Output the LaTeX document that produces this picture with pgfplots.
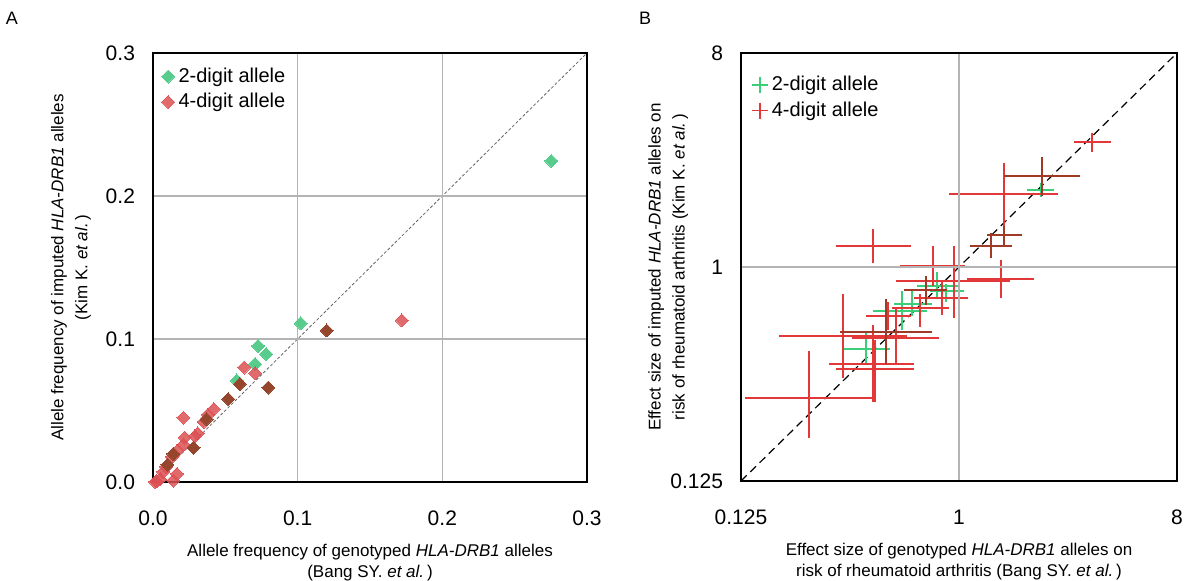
\documentclass[border=0pt]{standalone}
\usepackage{fontspec}
\setmainfont{Liberation Sans}
\usepackage{pgfplots}
\usepackage{pgfplotstable}
\pgfplotsset{compat=1.18}

\definecolor{grn}{RGB}{88,204,140}
\definecolor{rd}{RGB}{220,80,84}
\definecolor{brn}{RGB}{150,70,45}
\definecolor{gridg}{RGB}{180,180,180}
\definecolor{lred}{RGB}{226,56,56}
\definecolor{lgrn}{RGB}{60,205,120}
\definecolor{lbrn}{RGB}{160,58,38}

% panel A: allele frequencies (genotyped, imputed)
\pgfplotstableread{
x y
0.2754 0.2245
0.102 0.111
0.0727 0.0951
0.0782 0.0895
0.0706 0.0825
0.058 0.071
}\freqtwo
\pgfplotstableread{
x y
0.172 0.113
0.063 0.080
0.0706 0.076
0.042 0.051
0.038 0.047
0.021 0.045
0.035 0.042
0.031 0.034
0.029 0.032
0.022 0.031
0.021 0.026
0.017 0.022
0.013 0.0175
0.009 0.0105
0.007 0.007
0.0166 0.0056
0.014 0.001
0.005 0.002
0.0014 0.000
0.0025 0.0005
}\freqfour
% alleles where the 2-digit and 4-digit values coincide
\pgfplotstableread{
x y
0.120 0.106
0.060 0.0685
0.0796 0.066
0.052 0.058
0.037 0.044
0.028 0.024
0.014 0.0196
0.010 0.012
}\freqboth

% panel B: effect sizes with confidence intervals
\pgfplotstableread{
x xl xh y yl yh
2.18 1.92 2.47 2.11 1.97 2.26
0.81 0.67 1.00 0.83 0.74 0.95
0.88 0.76 1.05 0.79 0.71 0.85
0.64 0.54 0.77 0.70 0.62 0.79
0.58 0.44 0.74 0.65 0.54 0.79
0.41 0.33 0.52 0.45 0.39 0.53
}\ortwo
\pgfplotstableread{
x xl xh y yl yh
3.57 2.99 4.25 3.36 3.05 3.69
1.53 0.91 2.57 2.03 1.49 2.76
0.44 0.31 0.63 1.23 1.04 1.44
1.49 1.08 2.04 0.89 0.74 1.07
0.95 0.55 1.62 0.87 0.61 1.23
0.78 0.57 1.06 1.01 0.83 1.23
0.85 0.65 1.09 0.74 0.63 0.88
0.69 0.53 0.91 0.67 0.56 0.77
0.51 0.41 0.63 0.62 0.54 0.71
0.55 0.36 0.83 0.50 0.39 0.68
0.33 0.18 0.61 0.51 0.34 0.77
0.44 0.29 0.65 0.39 0.27 0.57
0.45 0.31 0.65 0.37 0.27 0.49
0.24 0.13 0.44 0.28 0.19 0.44
}\orfour
\pgfplotstableread{
x xl xh y yl yh
2.20 1.53 3.16 2.42 1.99 2.92
1.54 1.31 1.83 1.36 1.23 1.49
1.36 1.11 1.66 1.23 1.09 1.39
0.73 0.59 0.89 0.80 0.69 0.92
0.50 0.32 0.77 0.53 0.39 0.73
}\orboth

\pgfplotsset{
  panel/.style={
    scale only axis,
    axis line style={line width=1pt},
    grid=major,
    major grid style={gridg, line width=0.75pt},
    tick style={draw=none},
    /pgf/number format/assume math mode=true,
    ticklabel style={font=\fontsize{10.5}{12}\selectfont},
    yticklabel style={xshift=-5.5pt},
    xticklabel style={yshift=-11pt},
    every axis x label/.style={at={(axis description cs:0.5,0)}, anchor=north, yshift=-27.5pt,
      align=center, font=\fontsize{8.5}{10.5}\selectfont},
    legend cell align=left,
    legend style={draw=none, fill=none, font=\fontsize{10}{12}\selectfont,
      anchor=north west, row sep=0pt},
    clip=false,
    axis on top,
  },
  ylab/.style={every axis y label/.style={at={(axis description cs:#1,0.5)}, rotate=90,
      anchor=south, align=center, font=\fontsize{8.5}{12}\selectfont}},
  dmd/.style={only marks, mark=square*, mark size=2.3pt, color=#1,
    mark options={rotate=45, line width=0pt}},
  ci/.style={draw=none, mark=none, forget plot,
    error bars/.cd, x dir=both, x explicit, y dir=both, y explicit, error mark=none,
    error bar style={draw=#1, line width=1pt}},
  pls/.style={only marks, mark=+, mark size=4pt, color=#1, mark options={draw=#1, line width=0.8pt}},
}

\begin{document}
\begin{tikzpicture}[x=1pt, y=1pt]
\path[use as bounding box] (0,0) rectangle (592,290.5);
\node[font=\fontsize{9}{10}\selectfont] at (6,281.5) {A};
\node[font=\fontsize{9}{10}\selectfont] at (322.5,281.5) {B};

\begin{axis}[panel, ylab=-0.127,
  at={(76.5pt,49.5pt)}, anchor=south west,
  width=217pt, height=214.5pt,
  xmin=0, xmax=0.3, ymin=0, ymax=0.3,
  xtick={0,0.1,0.2,0.3}, xticklabels={0.0,0.1,0.2,0.3},
  ytick={0,0.1,0.2,0.3}, yticklabels={0.0,0.1,0.2,0.3},
  xlabel={Allele frequency of genotyped \textit{HLA-DRB1} alleles\\(Bang SY. \textit{et al.}\,)},
  ylabel={Allele frequency of imputed \textit{HLA-DRB1} alleles\\(Kim K. \textit{et al.}\,)},
  legend style={at={(axis description cs:0.005,0.985)}},
]
\addplot[gray!80!black, line width=0.4pt, dash pattern=on 1.5pt off 1pt, forget plot]
  coordinates {(0,0) (0.3,0.3)};
\addplot[dmd=grn] table {\freqtwo};
\addlegendentry{2-digit allele}
\addplot[only marks, mark=square*, mark size=2.3pt, color=rd,
  mark options={rotate=45, line width=0pt, opacity=0.85}] table {\freqfour};
\addlegendentry{4-digit allele}
\addplot[dmd=brn, forget plot] table {\freqboth};
\end{axis}

\begin{axis}[panel, ylab=-0.105,
  at={(370.5pt,50pt)}, anchor=south west,
  width=218pt, height=214pt,
  xmode=log, ymode=log, log basis x=2, log basis y=2,
  xmin=0.125, xmax=8, ymin=0.125, ymax=8,
  xtick={0.125,1,8}, xticklabels={0.125,1,8},
  ytick={0.125,1,8}, yticklabels={0.125,1,8},
  major grid style={gridg, line width=0.6pt},
  xlabel={Effect size of genotyped \textit{HLA-DRB1} alleles on\\risk of rheumatoid arthritis (Bang SY. \textit{et al.}\,)},
  ylabel={Effect size of imputed \textit{HLA-DRB1} alleles on\\risk of rheumatoid arthritis (Kim K. \textit{et al.}\,)},
  legend style={at={(axis description cs:0.01,0.965)}},
]
\addplot[black, line width=0.6pt, dash pattern=on 4pt off 2.5pt, forget plot]
  coordinates {(0.125,0.125) (8,8)};
\addlegendimage{pls=lgrn}
\addlegendentry{2-digit allele}
\addlegendimage{pls=lred}
\addlegendentry{4-digit allele}
\addplot[ci=lgrn] table[x=x, y=y,
  x error plus expr=\thisrow{xh}-\thisrow{x}, x error minus expr=\thisrow{x}-\thisrow{xl},
  y error plus expr=\thisrow{yh}-\thisrow{y}, y error minus expr=\thisrow{y}-\thisrow{yl}] {\ortwo};
\addplot[ci=lred] table[x=x, y=y,
  x error plus expr=\thisrow{xh}-\thisrow{x}, x error minus expr=\thisrow{x}-\thisrow{xl},
  y error plus expr=\thisrow{yh}-\thisrow{y}, y error minus expr=\thisrow{y}-\thisrow{yl}] {\orfour};
\addplot[ci=lbrn] table[x=x, y=y,
  x error plus expr=\thisrow{xh}-\thisrow{x}, x error minus expr=\thisrow{x}-\thisrow{xl},
  y error plus expr=\thisrow{yh}-\thisrow{y}, y error minus expr=\thisrow{y}-\thisrow{yl}] {\orboth};
\end{axis}
\end{tikzpicture}
\end{document}
